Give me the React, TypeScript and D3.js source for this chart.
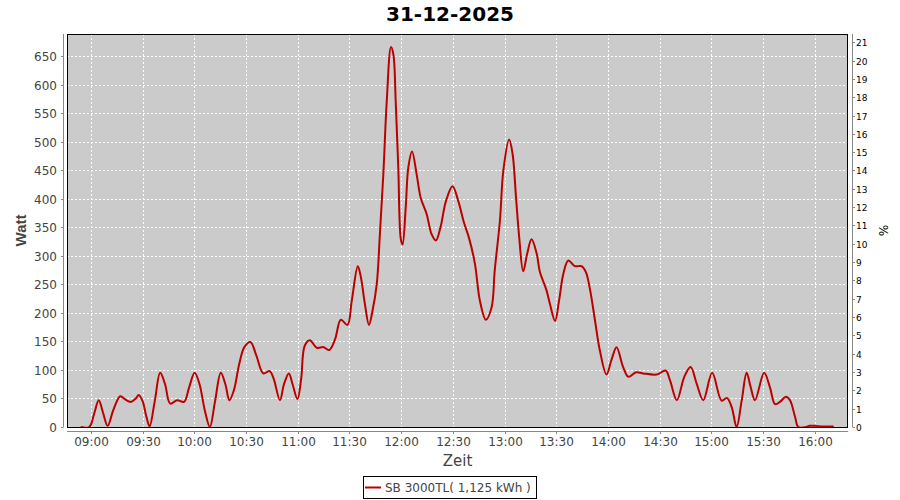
import React from "react";
import * as d3 from "d3";

const TITLE = "31-12-2025";
const SERIES_NAME = "SB 3000TL( 1,125 kWh )";
const Y_LABEL = "Watt";
const Y2_LABEL = "%";
const X_LABEL = "Zeit";

const times: string[] = [
  "08:54:00","08:59:00","09:02:00","09:04:30","09:07:00","09:09:40","09:13:00","09:17:00","09:20:00","09:23:00",
  "09:26:00","09:27:40","09:30:00","09:32:00","09:34:00","09:37:00","09:40:10","09:43:00","09:46:00","09:50:00",
  "09:54:00","09:57:00","10:00:10","10:03:00","10:06:00","10:09:00","10:12:00","10:15:20","10:18:00","10:20:20",
  "10:23:00","10:26:00","10:29:00","10:32:30","10:36:00","10:40:00","10:43:40","10:46:00","10:49:40","10:52:00",
  "10:54:50","10:57:00","10:59:50","11:02:00","11:04:00","11:07:00","11:11:00","11:15:00","11:18:20","11:21:40",
  "11:25:00","11:28:50","11:31:20","11:34:50","11:36:30","11:39:00","11:41:20","11:43:20","11:45:50","11:47:40",
  "11:49:40","11:51:40","11:54:06","11:55:30","11:56:50","11:58:20","11:59:50","12:00:50","12:02:40","12:04:10",
  "12:06:20","12:09:00","12:11:20","12:14:50","12:17:40","12:20:10","12:22:50","12:26:00","12:29:50","12:33:10",
  "12:36:30","12:39:20","12:42:50","12:45:40","12:49:10","12:52:30","12:54:20","12:57:20","12:59:20","13:02:40",
  "13:04:40","13:06:40","13:08:30","13:10:50","13:13:10","13:15:40","13:18:40","13:20:30","13:24:20","13:26:20",
  "13:29:20","13:31:40","13:34:10","13:37:00","13:40:50","13:44:40","13:47:10","13:49:40","13:52:30","13:55:20",
  "13:59:10","14:02:00","14:05:00","14:08:50","14:11:50","14:16:20","14:20:30","14:28:20","14:33:30","14:36:00",
  "14:40:00","14:44:20","14:48:00","14:51:30","14:55:20","15:00:30","15:06:00","15:09:00","15:11:50","15:14:40",
  "15:17:40","15:20:30","15:22:50","15:25:20","15:30:40","15:34:00","15:37:00","15:39:50","15:43:20","15:45:40",
  "15:48:40","15:50:30","15:55:00","15:57:00","16:00:00","16:05:00","16:11:00"
];

const watts: number[] = [
  0,0,25,47,25,2,30,54,48,44,
  50,56,45,20,1,45,95,75,41,47,
  44,70,95,75,30,0,45,95,75,47,
  65,110,140,149,125,94,98,85,47,75,
  94,75,49,85,142,152,139,140,135,154,
  188,179,221,282,265,215,179,203,250,338,
  443,572,666,653,572,455,329,320,385,455,
  483,443,402,373,338,327,350,396,422,396,
  358,332,286,222,188,210,275,362,450,504,
  479,403,333,273,304,329,304,272,240,216,
  186,222,269,292,282,282,272,240,187,134,
  92,117,140,105,88,96,94,92,99,82,
  47,88,105,76,47,95,46,51,35,0,
  47,95,70,47,95,70,40,44,53,47,
  17,0,0,2,2,1,1
];

const xTicks: string[] = ["09:00","09:30","10:00","10:30","11:00","11:30","12:00","12:30","13:00","13:30","14:00","14:30","15:00","15:30","16:00"];
const yTicks: number[] = [0,50,100,150,200,250,300,350,400,450,500,550,600,650];
const y2Ticks: number[] = [0,1,2,3,4,5,6,7,8,9,10,11,12,13,14,15,16,17,18,19,20,21];

const parseT = d3.timeParse("%Y-%m-%d %H:%M:%S");
const toDate = (t: string) => parseT("2025-12-31 " + (t.length === 5 ? t + ":00" : t)) as Date;

const W = 900, H = 500;
const L = 67, R = 848, T = 34, B = 427;

export default function App() {
  const x = d3.scaleTime()
    .domain([toDate("08:46:05"), toDate("16:19:20")])
    .range([L, R]);
  const y = d3.scaleLinear().domain([0, 689]).range([B, T]);
  const y2 = d3.scaleLinear().domain([0, 21.45]).range([B, T]);

  const data = times.map((t, i) => ({ t: toDate(t), v: watts[i] }));
  const line = d3.line<{ t: Date; v: number }>()
    .x(d => x(d.t))
    .y(d => y(d.v))
    .curve(d3.curveCatmullRom.alpha(0.5));

  const font = "DejaVu Sans, sans-serif";
  const fmt = d3.timeFormat("%H:%M");

  return (
    <svg width={W} height={H} style={{ position: "absolute", left: 0, top: 0, background: "#fff" }}>
      <defs>
        <clipPath id="plotclip">
          <rect x={L} y={T} width={R - L} height={B - T + 1} />
        </clipPath>
      </defs>
      <rect x={0} y={0} width={W} height={H} fill="#fff" />
      <text x={450} y={21} textAnchor="middle" fontFamily={font} fontWeight="bold" fontSize={20} fill="#000">{TITLE}</text>

      {/* plot background */}
      <rect x={L} y={T} width={R - L} height={B - T} fill="#cbcbcb" />

      {/* grid */}
      {xTicks.map(t => {
        const xx = Math.round(x(toDate(t))) + 0.5;
        return <line key={"gx" + t} x1={xx} x2={xx} y1={T} y2={B} stroke="#fff" strokeWidth={1} strokeDasharray="2,2" />;
      })}
      {yTicks.filter(v => v > 0).map(v => {
        const yy = Math.round(y(v)) + 0.5;
        return <line key={"gy" + v} x1={L} x2={R} y1={yy} y2={yy} stroke="#fff" strokeWidth={1} strokeDasharray="2,2" />;
      })}

      {/* series */}
      <path d={line(data) || ""} fill="none" stroke="#bb0000" strokeWidth={2} strokeLinejoin="round" clipPath="url(#plotclip)" />

      {/* plot outline */}
      <rect x={L + 0.5} y={T + 0.5} width={R - L - 1} height={B - T} fill="none" stroke="#000" strokeWidth={1} />

      {/* left axis */}
      <line x1={63.5} x2={63.5} y1={T} y2={B} stroke="#888" />
      {yTicks.map(v => {
        const yy = Math.round(y(v)) + 0.5;
        return (
          <g key={"ly" + v}>
            <line x1={61} x2={63.5} y1={yy} y2={yy} stroke="#888" />
            <text x={57} y={yy} dy="0.36em" textAnchor="end" fontFamily={font} fontSize={12} fill="#444">{v}</text>
          </g>
        );
      })}
      <text transform={`translate(26,${(T + B) / 2}) rotate(-90)`} textAnchor="middle" fontFamily="Liberation Sans, sans-serif" fontWeight="bold" fontSize={15} fill="#444">{Y_LABEL}</text>

      {/* right axis */}
      <line x1={852.5} x2={852.5} y1={T} y2={B} stroke="#888" />
      {y2Ticks.map(v => {
        const yy = Math.round(y2(v)) + 0.5;
        return (
          <g key={"ry" + v}>
            <line x1={852.5} x2={855} y1={yy} y2={yy} stroke="#888" />
            <text x={856} y={yy} dy="0.36em" textAnchor="start" fontFamily={font} fontSize={9} fill="#000">{v}</text>
          </g>
        );
      })}
      <text transform={`translate(879,${(T + B) / 2}) rotate(90)`} textAnchor="middle" fontFamily={font} fontSize={12} fill="#000">{Y2_LABEL}</text>

      {/* bottom axis */}
      <line x1={L} x2={R} y1={431.5} y2={431.5} stroke="#888" />
      {xTicks.map(t => {
        const d = toDate(t);
        const xx = Math.round(x(d)) + 0.5;
        return (
          <g key={"bx" + t}>
            <line x1={xx} x2={xx} y1={431.5} y2={434} stroke="#888" />
            <text x={xx} y={446} textAnchor="middle" fontFamily={font} fontSize={12} fill="#444">{fmt(d)}</text>
          </g>
        );
      })}
      <text x={(L + R) / 2} y={466} textAnchor="middle" fontFamily={font} fontSize={15} fill="#444">{X_LABEL}</text>

      {/* legend */}
      <rect x={363.5} y={476.5} width={173} height={22} fill="#fff" stroke="#000" />
      <line x1={365} x2={381} y1={487.5} y2={487.5} stroke="#bb0000" strokeWidth={2} />
      <text x={385} y={492} fontFamily={font} fontSize={12} fill="#444">{SERIES_NAME}</text>
    </svg>
  );
}
